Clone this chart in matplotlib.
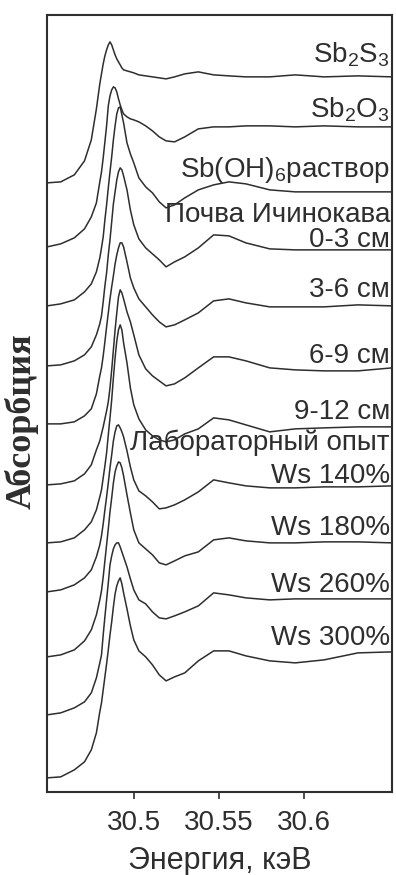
import matplotlib
matplotlib.use('Agg')
import matplotlib.pyplot as plt
from matplotlib.transforms import blended_transform_factory

plt.rcParams['font.family'] = ['Liberation Sans', 'DejaVu Sans']
plt.rcParams['mathtext.fontset'] = 'custom'
plt.rcParams['mathtext.rm'] = 'Liberation Sans'
plt.rcParams['mathtext.default'] = 'rm'

# photon energy, keV
energy = [30.449, 30.457, 30.465, 30.471, 30.475, 30.478, 30.480, 30.481, 30.482, 30.483,
          30.484, 30.485, 30.486, 30.487, 30.488, 30.489, 30.490, 30.491, 30.492, 30.493,
          30.494, 30.496, 30.498, 30.500, 30.503, 30.507, 30.511, 30.515, 30.519, 30.524,
          30.530, 30.538, 30.547, 30.556, 30.566, 30.580, 30.595, 30.612, 30.632, 30.652]

# absorption (arb. units), pre-edge set to zero
sb2s3 = [0.00, 0.01, 0.08, 0.22, 0.43, 0.74, 0.99, 1.09, 1.19, 1.27,
         1.33, 1.38, 1.41, 1.38, 1.33, 1.28, 1.24, 1.21, 1.18, 1.15,
         1.13, 1.12, 1.11, 1.10, 1.08, 1.07, 1.06, 1.05, 1.04, 1.06,
         1.09, 1.11, 1.08, 1.07, 1.06, 1.06, 1.08, 1.06, 1.07, 1.06]
sb2o3 = [0.00, 0.03, 0.09, 0.18, 0.30, 0.44, 0.65, 0.75, 0.89, 1.05,
         1.21, 1.41, 1.51, 1.57, 1.60, 1.59, 1.55, 1.48, 1.42, 1.37,
         1.33, 1.30, 1.28, 1.27, 1.25, 1.21, 1.16, 1.10, 1.06, 1.05,
         1.10, 1.18, 1.20, 1.20, 1.21, 1.21, 1.20, 1.21, 1.20, 1.20]
sb_oh6 = [0.00, 0.02, 0.06, 0.14, 0.22, 0.34, 0.48, 0.58, 0.69, 0.86,
          1.01, 1.18, 1.34, 1.49, 1.66, 1.80, 1.92, 1.98, 1.99, 1.91,
          1.83, 1.63, 1.52, 1.43, 1.28, 1.19, 1.13, 1.04, 0.98, 1.01,
          1.08, 1.16, 1.21, 1.24, 1.22, 1.16, 1.14, 1.14, 1.14, 1.14]
soil_0_3 = [0.00, 0.01, 0.05, 0.11, 0.19, 0.31, 0.42, 0.50, 0.64, 0.80,
            0.93, 1.11, 1.26, 1.44, 1.62, 1.74, 1.86, 1.94, 1.98, 1.96,
            1.90, 1.76, 1.56, 1.41, 1.27, 1.18, 1.12, 1.06, 0.99, 1.04,
            1.09, 1.18, 1.31, 1.30, 1.23, 1.17, 1.16, 1.16, 1.16, 1.16]
soil_3_6 = [0.00, 0.00, 0.02, 0.08, 0.15, 0.30, 0.48, 0.56, 0.68, 0.82,
            0.97, 1.11, 1.25, 1.37, 1.48, 1.60, 1.69, 1.76, 1.81, 1.81,
            1.77, 1.62, 1.46, 1.36, 1.25, 1.17, 1.09, 1.02, 0.97, 0.99,
            1.04, 1.11, 1.23, 1.25, 1.21, 1.17, 1.17, 1.17, 1.19, 1.18]
soil_6_9 = [0.00, 0.01, 0.04, 0.11, 0.20, 0.35, 0.44, 0.51, 0.58, 0.66,
            0.74, 0.83, 0.97, 1.15, 1.35, 1.55, 1.72, 1.88, 1.95, 1.92,
            1.86, 1.73, 1.63, 1.50, 1.30, 1.16, 1.09, 1.04, 0.99, 1.01,
            1.07, 1.17, 1.28, 1.28, 1.24, 1.17, 1.15, 1.14, 1.14, 1.17]
soil_9_12 = [0.00, 0.01, 0.05, 0.13, 0.21, 0.33, 0.46, 0.53, 0.65, 0.77,
             0.90, 1.08, 1.25, 1.43, 1.65, 1.85, 2.02, 2.13, 2.18, 2.13,
             2.00, 1.80, 1.55, 1.38, 1.24, 1.13, 1.07, 1.03, 1.01, 1.03,
             1.09, 1.14, 1.25, 1.23, 1.18, 1.11, 1.14, 1.15, 1.16, 1.16]
ws_140 = [0.00, 0.02, 0.07, 0.14, 0.22, 0.35, 0.47, 0.56, 0.68, 0.82,
          0.95, 1.09, 1.24, 1.37, 1.51, 1.60, 1.66, 1.67, 1.64, 1.60,
          1.55, 1.41, 1.25, 1.12, 1.01, 0.96, 0.90, 0.83, 0.84, 0.87,
          0.92, 1.00, 1.12, 1.09, 1.06, 1.04, 1.04, 1.05, 1.05, 1.06]
ws_180 = [0.00, 0.02, 0.07, 0.16, 0.27, 0.42, 0.57, 0.66, 0.80, 0.96,
          1.12, 1.28, 1.45, 1.59, 1.74, 1.85, 1.91, 1.95, 1.94, 1.89,
          1.81, 1.62, 1.44, 1.27, 1.14, 1.08, 1.02, 0.94, 0.92, 0.96,
          1.01, 1.05, 1.17, 1.19, 1.16, 1.14, 1.14, 1.15, 1.15, 1.14]
ws_260 = [0.00, 0.02, 0.07, 0.13, 0.22, 0.37, 0.52, 0.60, 0.80, 0.98,
          1.15, 1.32, 1.50, 1.59, 1.66, 1.70, 1.72, 1.72, 1.68, 1.63,
          1.58, 1.48, 1.36, 1.25, 1.15, 1.11, 1.03, 0.97, 0.96, 0.99,
          1.03, 1.09, 1.22, 1.20, 1.17, 1.15, 1.16, 1.16, 1.16, 1.16]
ws_300 = [0.00, 0.01, 0.08, 0.16, 0.28, 0.45, 0.66, 0.75, 0.88, 1.01,
          1.14, 1.28, 1.43, 1.56, 1.71, 1.84, 1.92, 1.97, 2.00, 1.94,
          1.85, 1.69, 1.52, 1.38, 1.27, 1.21, 1.13, 1.03, 0.97, 1.01,
          1.05, 1.17, 1.27, 1.27, 1.22, 1.17, 1.15, 1.18, 1.25, 1.26]

spectra = [sb2s3, sb2o3, sb_oh6, soil_0_3, soil_3_6, soil_6_9, soil_9_12,
           ws_140, ws_180, ws_260, ws_300]
names = ['Sb$_2$S$_3$', 'Sb$_2$O$_3$', 'Sb(OH)$_6$раствор', '0-3 см', '3-6 см',
         '6-9 см', '9-12 см', 'Ws 140%', 'Ws 180%', 'Ws 260%', 'Ws 300%']

# vertical shift of each spectrum in the stack
offsets = [6.09, 5.45, 4.86, 4.26, 3.68, 3.07, 2.49, 2.00, 1.35, 0.77, 0.14]
# baseline height of each label
label_y = [7.29, 6.74, 6.15, 5.45, 4.95, 4.29, 3.73, 3.09, 2.57, 2.00, 1.47]

ink = '#2e2e2e'

fig = plt.figure(figsize=(3.96, 8.75), dpi=100)
ax = fig.add_axes([0.119, 0.095, 0.871, 0.888])

for mu, off in zip(spectra, offsets):
    ax.plot(energy, [v + off for v in mu], color=ink, lw=1.1)

ax.set_xlim(30.449, 30.652)
ax.set_ylim(0, 7.77)
ax.set_yticks([])
ax.set_xticks([30.5, 30.55, 30.6])
ax.set_xticklabels(['30.5', '30.55', '30.6'])
ax.tick_params(axis='x', direction='out', length=5, width=1.2, pad=8,
               labelsize=20, colors=ink)
for s in ax.spines.values():
    s.set_linewidth(1.5)
    s.set_color(ink)

ax.set_xlabel('Энергия, кэВ', fontsize=22, color=ink)
ax.xaxis.set_label_coords(0.5, -0.07)

fig.text(22 / 396, 1 - 421 / 875, 'Абсорбция', rotation=90, ha='center', va='center',
         family=['Liberation Serif', 'DejaVu Serif'], weight='bold', fontsize=26, color=ink)

trans = blended_transform_factory(ax.transAxes, ax.transData)
for name, y in zip(names, label_y):
    ax.text(0.994, y, name, transform=trans, ha='right', va='baseline',
            fontsize=20, color=ink)

# group headings
ax.text(0.994, 5.70, 'Почва Ичинокава', transform=trans, ha='right', va='baseline',
        fontsize=20, color=ink)
ax.text(0.994, 3.42, 'Лабораторный опыт', transform=trans, ha='right', va='baseline',
        fontsize=20, color=ink)

fig.savefig('out.png', dpi=100, facecolor='white')
